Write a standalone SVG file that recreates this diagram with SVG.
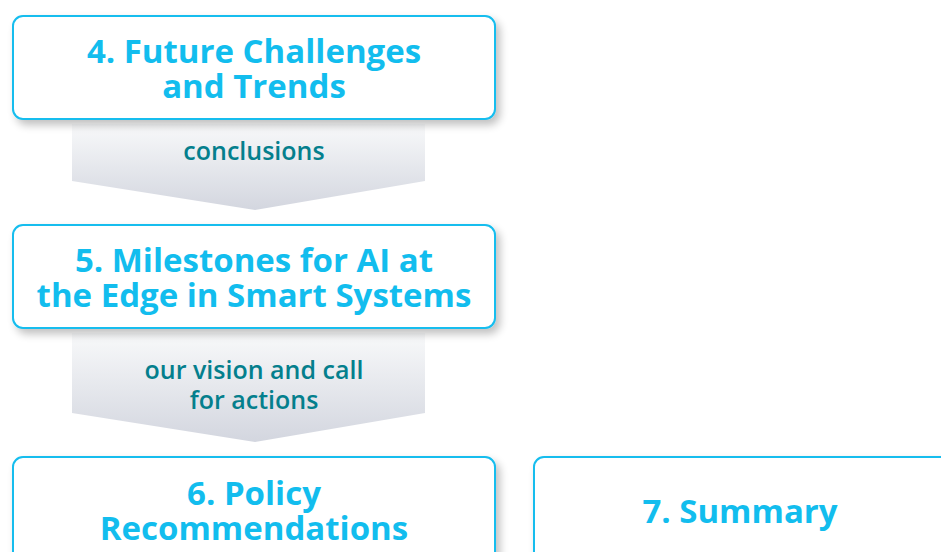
<svg xmlns="http://www.w3.org/2000/svg" width="941" height="552" viewBox="0 0 941 552">
<style>
.box{fill:#ffffff;stroke:#14bdee;stroke-width:2;filter:url(#sh)}
.t{font-family:"Open Sans","Noto Sans",sans-serif;font-weight:700;font-size:33px;fill:#12bdee;text-anchor:middle}
.l{font-family:"Open Sans","Noto Sans",sans-serif;font-weight:600;font-size:25px;fill:#047f8d;text-anchor:middle}
.arr{fill:url(#g)}
</style>
<defs>
<linearGradient id="g" x1="0" y1="0" x2="0" y2="1">
<stop offset="0" stop-color="#f8f9fa"/>
<stop offset="1" stop-color="#d3d6df"/>
</linearGradient>
<filter id="sh" x="-10%" y="-20%" width="125%" height="150%">
<feGaussianBlur in="SourceAlpha" stdDeviation="4"/>
<feOffset dx="4" dy="5" result="b"/>
<feComponentTransfer><feFuncA type="linear" slope="0.25"/></feComponentTransfer>
<feMerge><feMergeNode/><feMergeNode in="SourceGraphic"/></feMerge>
</filter>
</defs>
<rect width="941" height="552" fill="#ffffff"/>
<g id="connectors">
<g id="arrow1"><path class="arr" d="M72,124 H425 V181 L255,210 L72,181 Z"/><text class="l" x="254" y="160">conclusions</text></g>
<g id="arrow2"><path class="arr" d="M72,333 H425 V413 L255,442 L72,413 Z"/><text class="l" x="254" y="379"><tspan x="254">our vision and call</tspan><tspan x="254" dy="30">for actions</tspan></text></g>
</g>
<g id="node4"><rect class="box" x="13" y="16" width="482" height="103" rx="10"/><text class="t" x="254" y="63"><tspan x="254">4. Future Challenges</tspan><tspan x="254" dy="35">and Trends</tspan></text></g>
<g id="node5"><rect class="box" x="13" y="225" width="482" height="103" rx="10"/><text class="t" x="254" y="272"><tspan x="254">5. Milestones for AI at</tspan><tspan x="254" dy="35">the Edge in Smart Systems</tspan></text></g>
<g id="node6"><rect class="box" x="13" y="457" width="482" height="110" rx="10"/><text class="t" x="254" y="505"><tspan x="254">6. Policy</tspan><tspan x="254" dy="35">Recommendations</tspan></text></g>
<g id="node7"><rect class="box" x="534" y="457" width="420" height="110" rx="10"/><text class="t" x="740" y="523">7. Summary</text></g>
</svg>
